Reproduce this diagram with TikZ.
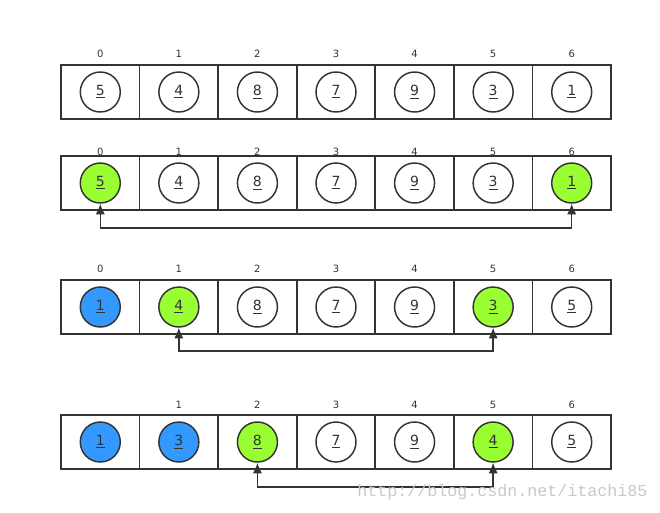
\documentclass[tikz,border=0pt]{standalone}
\usepackage{fontspec}
\setmainfont{DejaVu Sans}
\setmonofont{Liberation Mono}
\usetikzlibrary{arrows.meta}
\definecolor{lc}{RGB}{51,51,51}
\definecolor{gr}{RGB}{153,255,51}
\definecolor{bl}{RGB}{51,153,255}
\definecolor{wm}{RGB}{200,200,200}
\begin{document}
\begin{tikzpicture}[x=0.75pt,y=-0.75pt,
  cell/.style={draw=lc, line width=1.3pt, minimum width=58.93pt, minimum height=40.5pt, inner sep=0pt},
  ball/.style={circle, draw=lc, line width=1.1pt, minimum size=30pt, inner sep=0pt, font=\fontsize{10.5}{12}\selectfont, text=lc},
  idx/.style={font=\fontsize{7.5}{9}\selectfont, text=lc},
  link/.style={draw=lc, line width=1.1pt, {Latex[length=8pt,width=7pt]}-{Latex[length=8pt,width=7pt]}}
]
\useasboundingbox (0,0) rectangle (660,512);
\foreach \r/\y/\ly/\lst in {
  1/92/54/{5/white,4/white,8/white,7/white,9/white,3/white,1/white},
  2/183/152/{5/gr,4/white,8/white,7/white,9/white,3/white,1/gr},
  3/307/269/{1/bl,4/gr,8/white,7/white,9/white,3/gr,5/white},
  4/442/405/{1/bl,3/bl,8/gr,7/white,9/white,4/gr,5/white}} {
  \foreach \v/\f [count=\i from 0] in \lst {
    \node[cell] (k\r\i) at ({61+78.57*(\i+0.5)},\y) {};
    \node[ball, fill=\f] (c\r\i) at ({61+78.57*(\i+0.5)},\y) {\underline{\v}};
    \ifnum\r=4 \ifnum\i=0 \else
      \node[idx] (l\r\i) at ({61+78.57*(\i+0.5)},\ly) {\i};
    \fi\else
      \node[idx] (l\r\i) at ({61+78.57*(\i+0.5)},\ly) {\i};
    \fi
  }
}
\coordinate (m2) at (336,228);
\coordinate (m3) at (336,351);
\coordinate (m4) at (336,487);
\draw[link] (c20.south) |- (m2) -| (c26.south);
\draw[link] (c31.south) |- (m3) -| (c35.south);
\draw[link] (c42.south) |- (m4) -| (c45.south);
\node[anchor=west, inner sep=0pt, font=\ttfamily\fontsize{12.5}{14}\selectfont, text=wm] (wmk) at (357,492) {http://blog.csdn.net/itachi85};
\end{tikzpicture}
\end{document}
